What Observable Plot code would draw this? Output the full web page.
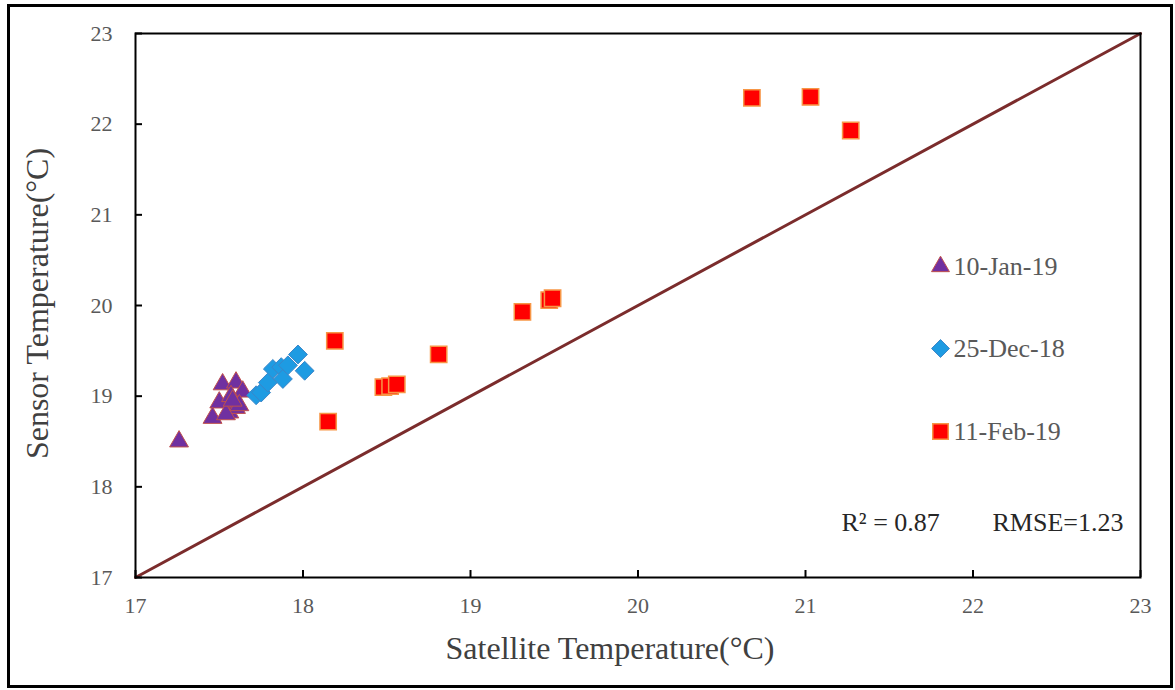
<!DOCTYPE html>
<html>
<head>
<meta charset="utf-8">
<script src="https://cdn.jsdelivr.net/npm/d3@7"></script>
<script src="https://cdn.jsdelivr.net/npm/@observablehq/plot@0.6"></script>
<style>
  html, body { margin: 0; padding: 0; background: #fff; }
  #wrap { position: relative; width: 1175px; height: 690px; }
  #border { position: absolute; left: 7px; top: 4px; width: 1160px; height: 678px; border: 3px solid #000; pointer-events: none; }
  #chart { position: absolute; left: 0; top: 0; }
</style>
</head>
<body>
<div id="wrap"><div id="chart"></div><div id="border"></div></div>
<script>
// Series names
const seriesNames = ["10-Jan-19", "25-Dec-18", "11-Feb-19"];

// 10-Jan-19 (triangles)
const janSat    = [17.26, 17.52, 17.60, 17.64, 17.50, 17.46, 17.56, 17.60, 17.57, 17.54, 17.62, 17.58];
const janSensor = [18.50, 19.13, 19.15, 19.05, 18.93, 18.76, 18.82, 18.87, 19.00, 18.80, 18.90, 18.95];

// 25-Dec-18 (diamonds)
const decSat    = [17.72, 17.75, 17.79, 17.82, 17.87, 17.88, 17.91, 17.97, 18.01];
const decSensor = [19.01, 19.04, 19.15, 19.30, 19.32, 19.19, 19.34, 19.46, 19.28];

// 11-Feb-19 (squares)
const febSat    = [20.68, 21.03, 21.27, 19.47, 19.49, 19.31, 18.81, 18.19, 18.15, 18.48, 18.52, 18.56];
const febSensor = [22.29, 22.30, 21.93, 20.06, 20.08, 19.93, 19.46, 19.61, 18.72, 19.10, 19.11, 19.13];

// 1:1 line endpoints and tick values
const lineVals = [17, 23];
const xTicks = [17, 18, 19, 20, 21, 22, 23];
const yTicks = [17, 18, 19, 20, 21, 22, 23];

const statsR2 = "R² = 0.87";
const statsRMSE = "RMSE=1.23";
const xTitle = "Satellite Temperature(°C)";
const yTitle = "Sensor Temperature(°C)";

const toRows = (xs, ys) => xs.map((x, i) => ({x, y: ys[i]}));
const jan = toRows(janSat, janSensor);
const dec = toRows(decSat, decSensor);
const feb = toRows(febSat, febSensor);
const diag = lineVals.map(v => ({x: v, y: v}));

const styles = [
  {symbol: "triangle", r: 7, fill: "#7030A0", stroke: "#C0504D", strokeWidth: 1},
  {symbol: "diamond2", r: 8.5, fill: "#1E9BE2", stroke: "#3C86C8", strokeWidth: 1},
  {symbol: "square", r: 9.2, fill: "#FF0000", stroke: "#F79646", strokeWidth: 1.5}
];
const legendDy = [233, 315, 398];

const legendMarks = seriesNames.flatMap((name, i) => [
  Plot.dot([name], {frameAnchor: "top-left", dx: 805, dy: legendDy[i], ...styles[i], r: styles[i].r * 0.95}),
  Plot.text([name], {frameAnchor: "top-left", dx: 818, dy: legendDy[i], text: d => d, textAnchor: "start", lineAnchor: "middle", fontSize: 26, fill: "#595959"})
]);

const fmt = d => String(d);

const chart = Plot.plot({
  width: 1175,
  height: 690,
  marginLeft: 135,
  marginRight: 35,
  marginTop: 33,
  marginBottom: 113,
  style: {fontFamily: "'Liberation Serif', 'Times New Roman', serif", background: "transparent"},
  x: {domain: [17, 23]},
  y: {domain: [17, 23]},
  marks: [
    Plot.line(diag, {x: "x", y: "y", stroke: "#7B2C2C", strokeWidth: 3}),
    Plot.dot(jan, {x: "x", y: "y", ...styles[0]}),
    Plot.dot(dec, {x: "x", y: "y", ...styles[1]}),
    Plot.dot(feb, {x: "x", y: "y", ...styles[2]}),
    Plot.frame({stroke: "#000", strokeWidth: 2}),
    // inward tick marks
    Plot.axisX({ticks: xTicks, tickSize: 7, dy: -7, stroke: "#000", strokeWidth: 2, fill: "none", tickFormat: fmt, label: null}),
    Plot.axisY({ticks: yTicks, tickSize: 7, dx: 7, stroke: "#000", strokeWidth: 2, fill: "none", tickFormat: fmt, label: null}),
    // tick labels
    Plot.axisX({ticks: xTicks, tickSize: 0, tickPadding: 20, stroke: "none", fill: "#595959", fontSize: 22, tickFormat: fmt, label: null}),
    Plot.axisY({ticks: yTicks, tickSize: 0, tickPadding: 23, stroke: "none", fill: "#595959", fontSize: 22, tickFormat: fmt, label: null}),
    Plot.text([xTitle], {frameAnchor: "bottom", dx: -28, dy: 71, lineAnchor: "middle", textAnchor: "middle", text: d => d, fontSize: 32, fill: "#404040"}),
    Plot.text([yTitle], {frameAnchor: "left", dx: -98, dy: -2, rotate: -90, lineAnchor: "middle", textAnchor: "middle", text: d => d, fontSize: 32, fill: "#404040"}),
    Plot.text([statsR2], {frameAnchor: "bottom-right", dx: -299, dy: -55, lineAnchor: "middle", text: d => d, textAnchor: "start", fontSize: 26, fill: "#262626"}),
    Plot.text([statsRMSE], {frameAnchor: "bottom-right", dx: -17, dy: -55, lineAnchor: "middle", text: d => d, textAnchor: "end", fontSize: 26, fill: "#262626"}),
    ...legendMarks
  ]
});
document.getElementById("chart").appendChild(chart);
</script>
</body>
</html>
